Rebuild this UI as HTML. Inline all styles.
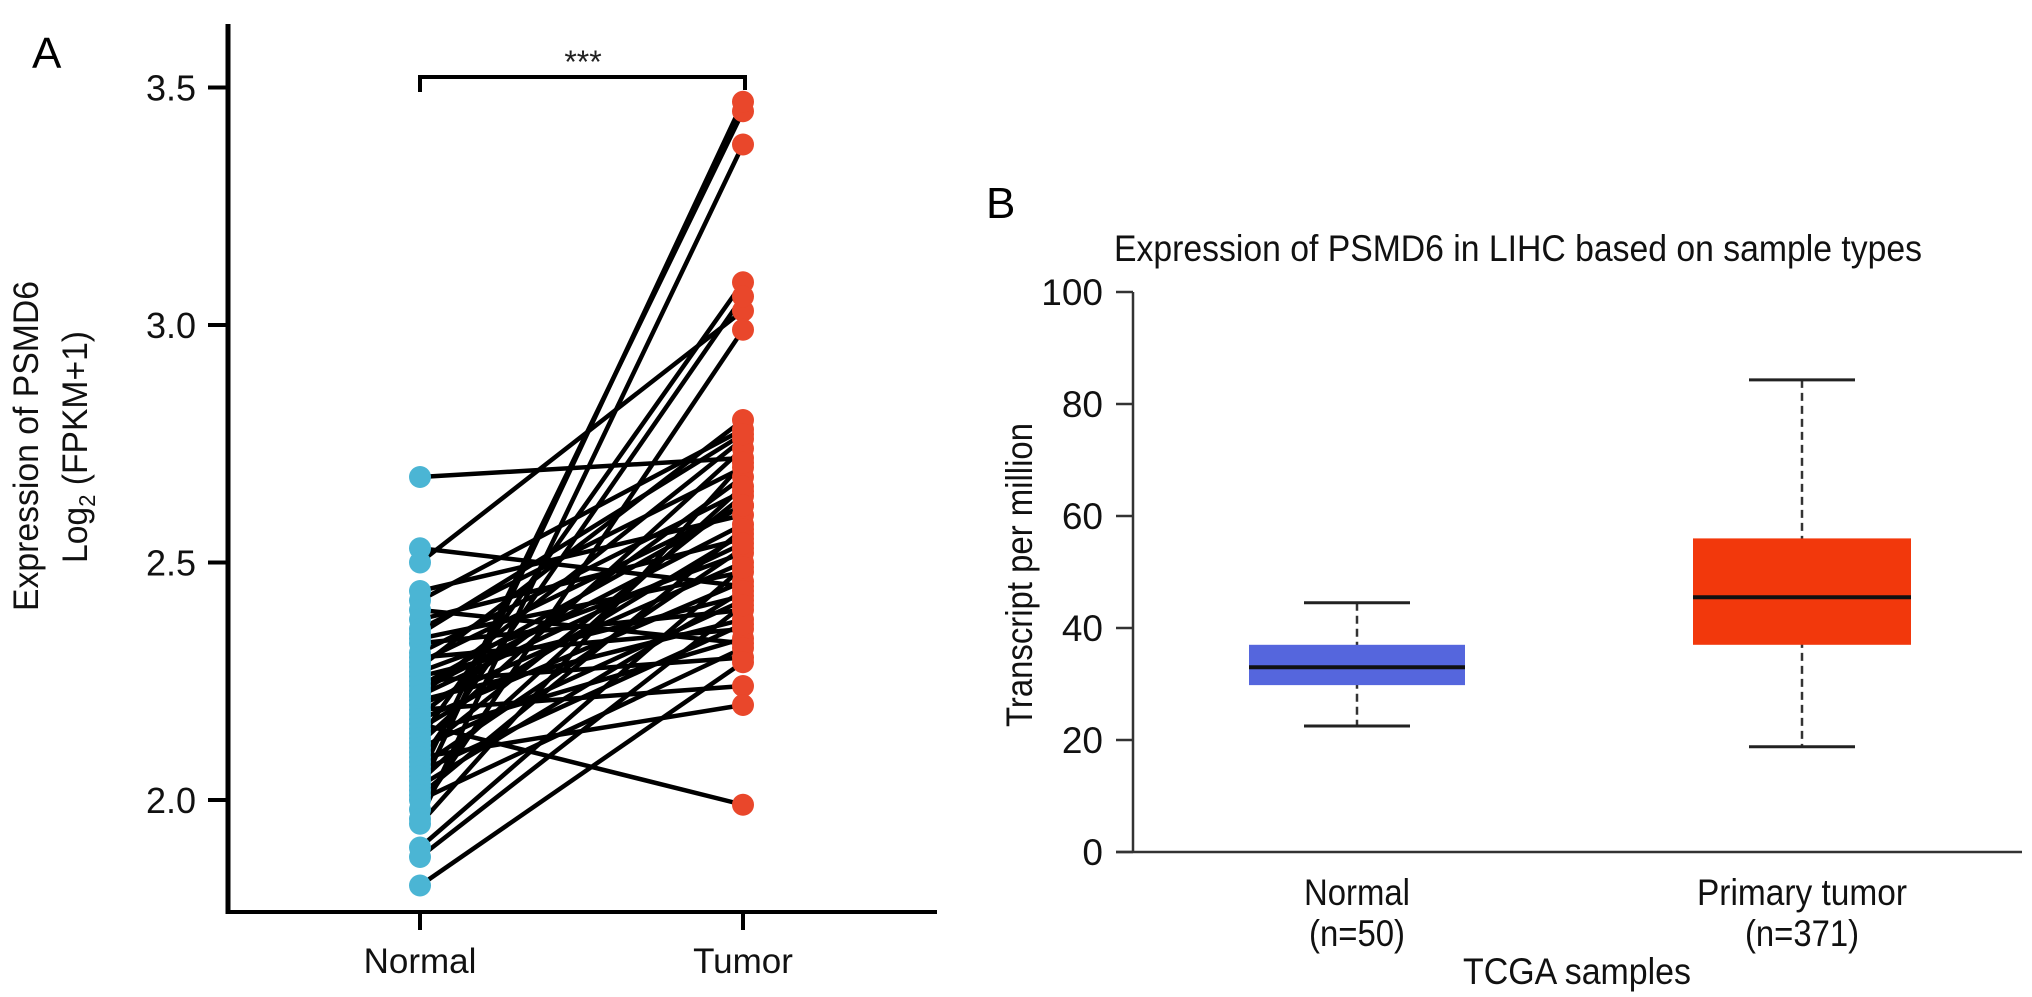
<!DOCTYPE html>
<html><head><meta charset="utf-8"><style>
html,body{margin:0;padding:0;background:#fff;}
svg{display:block;font-family:"Liberation Sans",Arial,sans-serif;}
</style></head><body>
<svg id="fig" width="2032" height="997" viewBox="0 0 2032 997">
  <g id="panelA"></g>
  <g id="panelB"></g>
</svg>
<script>
const NS="http://www.w3.org/2000/svg";
// Panel A data
const groupsA=["Normal","Tumor"];
const normalVals=[2.68,2.53,2.50,2.44,2.42,2.40,2.38,2.36,2.34,2.33,2.31,2.30,2.28,2.27,2.26,2.25,2.24,2.23,2.22,2.21,2.20,2.19,2.18,2.17,2.16,2.15,2.14,2.13,2.12,2.11,2.10,2.09,2.08,2.07,2.06,2.05,2.04,2.03,2.02,2.01,2.00,1.98,1.96,1.95,1.90,1.88,1.82,2.29,2.35,2.22];
const tumorVals=[2.72,2.45,3.03,2.60,2.78,2.33,2.55,2.70,2.48,2.40,2.65,2.36,2.80,2.52,2.43,2.30,2.62,2.58,2.76,2.38,2.50,2.24,2.68,2.46,1.99,2.56,2.34,3.09,2.74,2.42,2.64,2.20,3.06,2.53,2.37,3.45,2.66,2.44,3.47,2.57,2.32,2.99,3.38,2.71,2.49,2.41,2.29,2.62,2.77,2.54];
const ticksA=[2.0,2.5,3.0,3.5];
const tickLabelsA=["2.0","2.5","3.0","3.5"];
// Panel B data
const groupsB=["Normal","Primary tumor"];
const groupNB=["(n=50)","(n=371)"];
const whiskLow=[22.5,18.8];
const q1B=[29.8,37.0];
const medB=[33.0,45.5];
const q3B=[37.0,56.0];
const whiskHigh=[44.5,84.3];
const ticksB=[0,20,40,60,80,100];

function mk(tag,attrs,parent,text){const e=document.createElementNS(NS,tag);for(const k in attrs)e.setAttribute(k,attrs[k]);if(text!==undefined)e.textContent=text;parent.appendChild(e);return e;}

// ---- Panel A ----
const A=document.getElementById('panelA');
const yA=v=>800-(v-2.0)*475;
const xA=i=>[420,743][i];
let e;
e=mk('line',{x1:228,y1:24,x2:228,y2:914,stroke:'#000','stroke-width':5},A);

e=mk('line',{x1:226,y1:912,x2:937,y2:912,stroke:'#000','stroke-width':4},A);

ticksA.forEach((t,i)=>{
  e=mk('line',{x1:208,y1:yA(t),x2:228,y2:yA(t),stroke:'#000','stroke-width':4},A);
  
  e=mk('text',{x:196,y:yA(t)+13,'font-size':36,'text-anchor':'end',fill:'#111'},A,tickLabelsA[i]);
  
});
groupsA.forEach((g,i)=>{
  e=mk('line',{x1:xA(i),y1:912,x2:xA(i),y2:930,stroke:'#000','stroke-width':4},A);
  
  e=mk('text',{x:xA(i),y:973,'font-size':35,'text-anchor':'middle',fill:'#111'},A,g);
  
});
normalVals.forEach((n,i)=>{
  e=mk('line',{x1:xA(0),y1:yA(n),x2:xA(1),y2:yA(tumorVals[i]),stroke:'#000','stroke-width':4.5},A);
  
});
normalVals.forEach(n=>{
  e=mk('circle',{cx:xA(0),cy:yA(n),r:11,fill:'#4bb5d4'},A);
  
});
tumorVals.forEach(t=>{
  e=mk('circle',{cx:xA(1),cy:yA(t),r:11,fill:'#e9472b'},A);
  
});
e=mk('path',{d:'M420 92 V77 H745 V90',fill:'none',stroke:'#000','stroke-width':4},A);

e=mk('text',{x:583,y:73,'font-size':32,'text-anchor':'middle',fill:'#222'},A,'***');

e=mk('text',{x:32,y:68,'font-size':44,fill:'#000'},A,'A');

e=mk('text',{x:0,y:0,'font-size':35,'text-anchor':'middle',fill:'#111',transform:'translate(38,446) rotate(-90)',textLength:330,lengthAdjust:'spacingAndGlyphs'},A,'Expression of PSMD6');

e=mk('text',{x:0,y:0,'font-size':35,'text-anchor':'middle',fill:'#111',transform:'translate(87,447) rotate(-90)',textLength:232,lengthAdjust:'spacingAndGlyphs'},A);

mk('tspan',{},e,'Log');mk('tspan',{'font-size':23,dy:8},e,'2');mk('tspan',{dy:-8},e,' (FPKM+1)');

// ---- Panel B ----
const B=document.getElementById('panelB');
const yB=v=>852-v*5.6;
const xB=i=>[1357,1802][i];
const boxHalf=[108,109], capHalf=53;
e=mk('line',{x1:1133,y1:yB(100),x2:1133,y2:853,stroke:'#333','stroke-width':2.5},B);

e=mk('line',{x1:1116,y1:852,x2:2022,y2:852,stroke:'#333','stroke-width':2.5},B);

ticksB.forEach(t=>{
  e=mk('line',{x1:1116,y1:yB(t),x2:1133,y2:yB(t),stroke:'#333','stroke-width':2.5},B);
  
  e=mk('text',{x:1103,y:yB(t)+13,'font-size':37,'text-anchor':'end',fill:'#111'},B,String(t));
  
});
const colors=['#5566dd','#f2380c'];
groupsB.forEach((g,i)=>{
  const x=xB(i);
  e=mk('line',{x1:x,y1:yB(whiskHigh[i]),x2:x,y2:yB(whiskLow[i]),stroke:'#333','stroke-width':2.5,'stroke-dasharray':'8,5'},B);
  
  e=mk('line',{x1:x-capHalf,y1:yB(whiskHigh[i]),x2:x+capHalf,y2:yB(whiskHigh[i]),stroke:'#222','stroke-width':3},B);
  
  e=mk('line',{x1:x-capHalf,y1:yB(whiskLow[i]),x2:x+capHalf,y2:yB(whiskLow[i]),stroke:'#222','stroke-width':3},B);
  
  e=mk('rect',{x:x-boxHalf[i],y:yB(q3B[i]),width:boxHalf[i]*2,height:yB(q1B[i])-yB(q3B[i]),fill:colors[i]},B);
  
  e=mk('line',{x1:x-boxHalf[i],y1:yB(medB[i]),x2:x+boxHalf[i],y2:yB(medB[i]),stroke:'#111','stroke-width':4},B);
  
  e=mk('text',{x:x,y:905,'font-size':37,'text-anchor':'middle',fill:'#111',textLength:i?210:106,lengthAdjust:'spacingAndGlyphs'},B,g);
  
  e=mk('text',{x:x,y:946,'font-size':37,'text-anchor':'middle',fill:'#111',textLength:i?114:96,lengthAdjust:'spacingAndGlyphs'},B,groupNB[i]);
  
});
e=mk('text',{x:1577,y:984,'font-size':37,'text-anchor':'middle',fill:'#111',textLength:228,lengthAdjust:'spacingAndGlyphs'},B,'TCGA samples');

e=mk('text',{x:0,y:0,'font-size':37,'text-anchor':'middle',fill:'#111',transform:'translate(1032,575) rotate(-90)',textLength:304,lengthAdjust:'spacingAndGlyphs'},B,'Transcript per million');

e=mk('text',{x:1518,y:261,'font-size':37,'text-anchor':'middle',fill:'#111',textLength:808,lengthAdjust:'spacingAndGlyphs'},B,'Expression of PSMD6 in LIHC based on sample types');

e=mk('text',{x:986,y:218,'font-size':44,fill:'#000'},B,'B');

</script>
</body></html>
